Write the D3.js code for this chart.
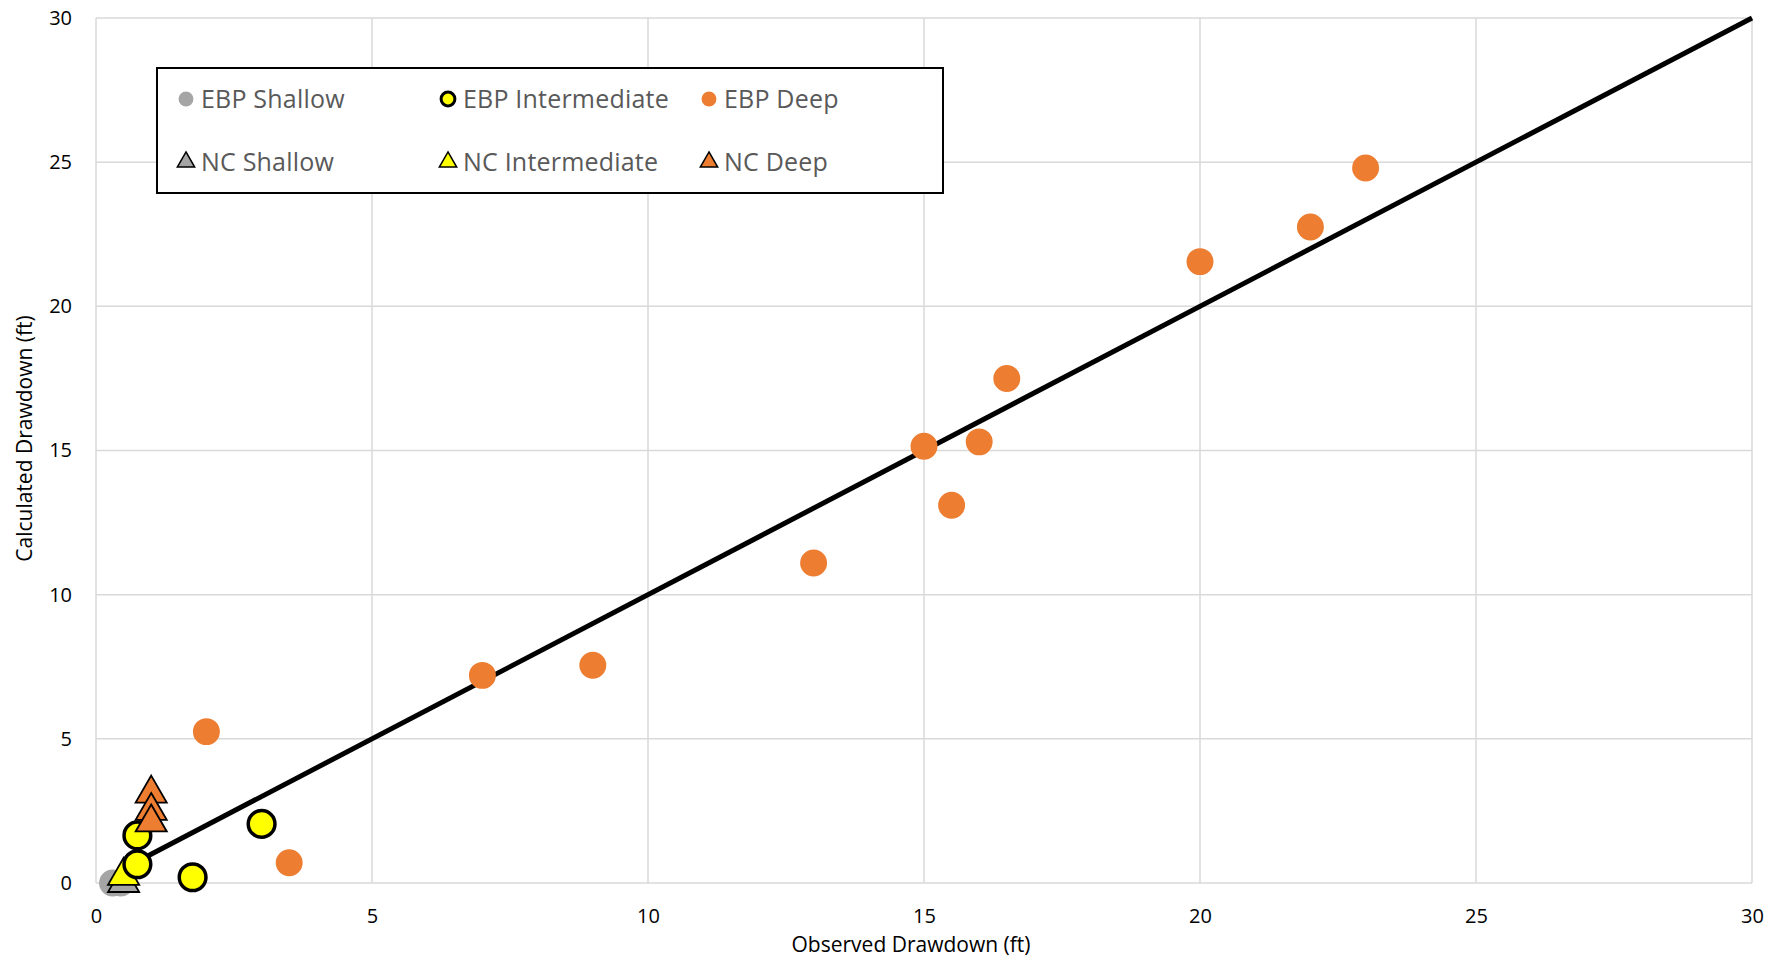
<!DOCTYPE html>
<html>
<head>
<meta charset="utf-8">
<script src="https://cdnjs.cloudflare.com/ajax/libs/d3/7.8.5/d3.min.js"></script>
<style>
  body { margin: 0; background: #fff; }
  text { font-family: "Open Sans", "Noto Sans", sans-serif; }
</style>
</head>
<body>
<div id="chart"></div>
<script>
// Set dimensions
var w = 1769;
var h = 959;
var margin = {top: 18, right: 17, bottom: 76, left: 96};

// Observed (x) vs calculated (y) drawdown, ft
var ebpShallowX = [0.3, 0.45];
var ebpShallowY = [0.0, 0.0];
var ebpInterX = [0.75, 0.75, 1.75, 3.0];
var ebpInterY = [1.65, 0.65, 0.2, 2.05];
var ebpDeepX = [2.0, 3.5, 7.0, 9.0, 13.0, 15.0, 15.5, 16.0, 16.5, 20.0, 22.0, 23.0];
var ebpDeepY = [5.25, 0.7, 7.2, 7.55, 11.1, 15.15, 13.1, 15.3, 17.5, 21.55, 22.75, 24.8];
var ncShallowX = [0.5];
var ncShallowY = [0.0];
var ncInterX = [0.5];
var ncInterY = [0.25];
var ncDeepX = [1.0, 1.0, 1.0];
var ncDeepY = [3.1, 2.5, 2.1];

var lineX = [0.6, 30];

var xTicks = [0, 5, 10, 15, 20, 25, 30];
var yTicks = [0, 5, 10, 15, 20, 25, 30];

var legendNames = ["EBP Shallow", "EBP Intermediate", "EBP Deep", "NC Shallow", "NC Intermediate", "NC Deep"];

function pts(xs, ys) {
    return xs.map(function(x, i) { return {x: x, y: ys[i]}; });
}

var series = [
    {name: "EBP Shallow", shape: "circle", fill: "#a5a5a5", stroke: "none", data: pts(ebpShallowX, ebpShallowY)},
    {name: "NC Shallow", shape: "triangle", fill: "#a5a5a5", stroke: "#000", data: pts(ncShallowX, ncShallowY)},
    {name: "NC Intermediate", shape: "triangle", fill: "#ffff00", stroke: "#000", data: pts(ncInterX, ncInterY)},
    {name: "EBP Intermediate", shape: "circle", fill: "#ffff00", stroke: "#000", data: pts(ebpInterX, ebpInterY)},
    {name: "EBP Deep", shape: "circle", fill: "#ed7d31", stroke: "none", data: pts(ebpDeepX, ebpDeepY)},
    {name: "NC Deep", shape: "triangle", fill: "#ed7d31", stroke: "#000", data: pts(ncDeepX, ncDeepY)}
];

var xScale = d3.scaleLinear().domain([0, 30]).range([margin.left, w - margin.right]);
var yScale = d3.scaleLinear().domain([0, 30]).range([h - margin.bottom, margin.top]);

var svg = d3.select("#chart").append("svg")
    .attr("width", w)
    .attr("height", h);

// Grid lines
svg.append("g").selectAll("line.vg")
    .data(xTicks)
    .enter().append("line")
    .attr("x1", function(d) { return xScale(d); })
    .attr("x2", function(d) { return xScale(d); })
    .attr("y1", yScale(0))
    .attr("y2", yScale(30))
    .attr("stroke", "#d9d9d9")
    .attr("stroke-width", 1.5);

svg.append("g").selectAll("line.hg")
    .data(yTicks)
    .enter().append("line")
    .attr("y1", function(d) { return yScale(d); })
    .attr("y2", function(d) { return yScale(d); })
    .attr("x1", xScale(0))
    .attr("x2", xScale(30))
    .attr("stroke", "#d9d9d9")
    .attr("stroke-width", 1.5);

// Axes (labels only)
var xAxis = svg.append("g")
    .attr("transform", "translate(0," + (yScale(0) + 18) + ")")
    .call(d3.axisBottom(xScale).tickValues(xTicks).tickSize(0).tickPadding(8));
xAxis.select(".domain").remove();
xAxis.selectAll("text").style("font-size", "20px").attr("fill", "#000");

var yAxis = svg.append("g")
    .attr("transform", "translate(" + (xScale(0) - 24) + ",0)")
    .call(d3.axisLeft(yScale).tickValues(yTicks).tickSize(0).tickPadding(0));
yAxis.select(".domain").remove();
yAxis.selectAll("text").style("font-size", "20px").attr("fill", "#000");

// Axis titles
svg.append("text")
    .attr("x", (xScale(0) + xScale(30)) / 2 - 13)
    .attr("y", 952)
    .attr("text-anchor", "middle")
    .style("font-size", "21px")
    .text("Observed Drawdown (ft)");

svg.append("text")
    .attr("transform", "translate(32," + ((yScale(0) + yScale(30)) / 2 - 12) + ") rotate(-90)")
    .attr("text-anchor", "middle")
    .style("font-size", "21px")
    .text("Calculated Drawdown (ft)");

// 1:1 line
svg.append("line")
    .attr("x1", xScale(lineX[0]))
    .attr("y1", yScale(lineX[0]))
    .attr("x2", xScale(lineX[1]))
    .attr("y2", yScale(lineX[1]))
    .attr("stroke", "#000")
    .attr("stroke-width", 5);

function drawMarks(g, s) {
    var sel = g.selectAll("path.m")
        .data(s.data)
        .enter().append("path")
        .attr("class", "m")
        .attr("transform", function(d) { return "translate(" + xScale(d.x) + "," + yScale(d.y) + ")"; })
        .attr("fill", s.fill)
        .attr("stroke", s.stroke)
        .attr("stroke-width", s.shape === "circle" ? 3.5 : 1.8);
    if (s.shape === "circle") {
        sel.attr("d", d3.symbol().type(d3.symbolCircle).size(s.stroke === "none" ? 570 : 560));
    } else {
        sel.attr("d", d3.symbol().type(d3.symbolTriangle).size(420));
    }
}

series.forEach(function(s) {
    drawMarks(svg.append("g"), s);
});

// Legend
var legendG = svg.append("g");
legendG.append("rect")
    .attr("x", 157)
    .attr("y", 68)
    .attr("width", 786)
    .attr("height", 125)
    .attr("fill", "#fff")
    .attr("stroke", "#000")
    .attr("stroke-width", 2);

var legendStyle = {
    "EBP Shallow": {shape: "circle", fill: "#a5a5a5", stroke: "none"},
    "EBP Intermediate": {shape: "circle", fill: "#ffff00", stroke: "#000"},
    "EBP Deep": {shape: "circle", fill: "#ed7d31", stroke: "none"},
    "NC Shallow": {shape: "triangle", fill: "#a5a5a5", stroke: "#000"},
    "NC Intermediate": {shape: "triangle", fill: "#ffff00", stroke: "#000"},
    "NC Deep": {shape: "triangle", fill: "#ed7d31", stroke: "#000"}
};
var colX = [186, 448, 709];
var rowY = [99, 162];

var items = legendG.selectAll("g.legend-item")
    .data(legendNames)
    .enter().append("g")
    .attr("class", "legend-item")
    .attr("transform", function(d, i) {
        return "translate(" + colX[i % 3] + "," + rowY[Math.floor(i / 3)] + ")";
    });

items.append("path")
    .attr("d", function(d) {
        var st = legendStyle[d];
        if (st.shape === "circle") return d3.symbol().type(d3.symbolCircle).size(st.stroke === "none" ? 175 : 150)();
        return d3.symbol().type(d3.symbolTriangle).size(130)();
    })
    .attr("fill", function(d) { return legendStyle[d].fill; })
    .attr("stroke", function(d) { return legendStyle[d].stroke; })
    .attr("stroke-width", function(d) { return legendStyle[d].shape === "circle" ? 3 : 1.5; });

items.append("text")
    .attr("x", 15)
    .attr("y", 9)
    .style("font-size", "25px")
    .style("letter-spacing", "0.2px")
    .attr("fill", "#595959")
    .text(function(d) { return d; });
</script>
</body>
</html>
